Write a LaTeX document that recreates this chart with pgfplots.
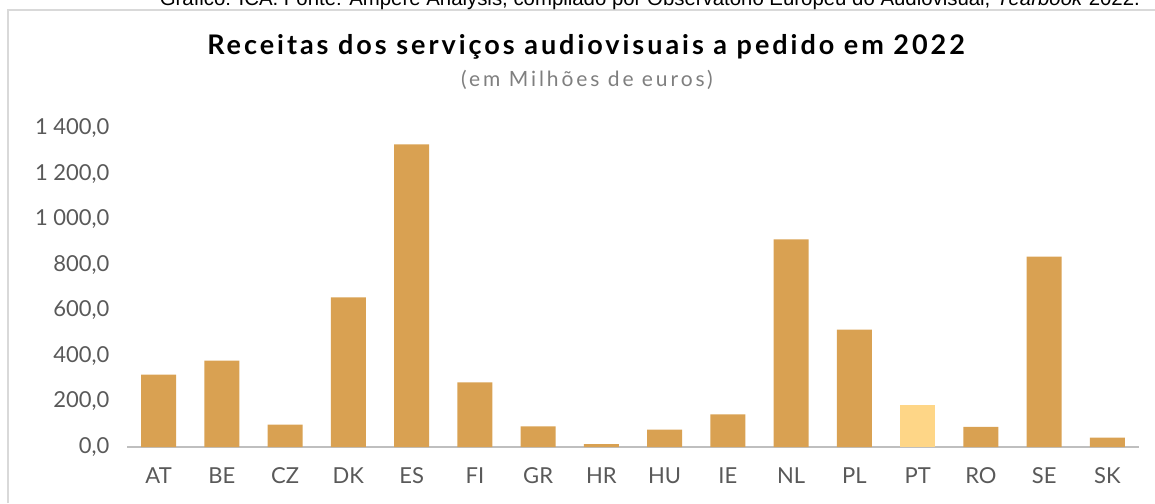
\documentclass[border=0pt]{standalone}
\usepackage{fontspec}
\setmainfont{Lato}
\newfontfamily\capfont{Liberation Sans}
\newfontfamily\titlefont{Lato}[LetterSpace=11]
\newfontfamily\subfont{Lato}[LetterSpace=14]
\usepackage{pgfplots}
\pgfplotsset{compat=1.18}
\definecolor{barcol}{HTML}{D9A152}
\definecolor{ptcol}{HTML}{FED687}
\definecolor{axgray}{HTML}{BFBFBF}
\definecolor{txtgray}{HTML}{595959}
\definecolor{subgray}{HTML}{7F7F7F}
\definecolor{framegray}{HTML}{D9D9D9}

\begin{document}
\begin{tikzpicture}[x=1pt,y=1pt]
\useasboundingbox (0,0) rectangle (1155,503);
% frame (only top and left edge visible)
\draw[framegray,line width=2pt] (8,0) -- (8,493) -- (1155,493);
% cropped source line
\node[anchor=base east,inner sep=0] at (1140,497)
  {\resizebox{980pt}{!}{\capfont\fontsize{22}{26}\selectfont Gráfico: ICA. Fonte: Ampere Analysis, compilado por Observatório Europeu do Audiovisual, \textit{Yearbook} 2022.}};
\node[font=\titlefont\bfseries\fontsize{27}{32}\selectfont] at (586,456) {Receitas dos serviços audiovisuais a pedido em 2022};
\node[font=\subfont\fontsize{21}{25}\selectfont,text=subgray] at (587,423) {(em Milhões de euros)};

\begin{axis}[
at={(127pt,56pt)},anchor=south west,
scale only axis,width=1012pt,height=319pt,
xmin=-0.5,xmax=15.5,ymin=0,ymax=1400,
ytick={0,200,...,1400},
xtick={0,...,15},
xticklabels={AT,BE,CZ,DK,ES,FI,GR,HR,HU,IE,NL,PL,PT,RO,SE,SK},
separate axis lines,
axis x line*=bottom,axis y line*=left,
x axis line style={axgray,line width=2pt,-},
y axis line style={draw=none},
major tick length=0pt,
ticklabel style={font=\fontsize{22}{26}\selectfont,text=txtgray},
xticklabel style={yshift=-17pt},
yticklabel style={xshift=-14pt},
/pgf/number format/.cd,fixed,fixed zerofill,precision=1,use comma,1000 sep={\ },assume math mode=true,
/pgfplots/.cd,
ybar,bar width=35pt,bar shift=0pt,
]
\addplot[fill=barcol,draw=none] coordinates {
(0,318)(1,379)(2,98)(3,657)(4,1328)(5,284)(6,91)(7,13)(8,76)(9,143)(10,911)(11,515)(13,88)(14,836)(15,41)};
\addplot[fill=ptcol,draw=none] coordinates {(12,183)};
\end{axis}
\end{tikzpicture}
\end{document}
